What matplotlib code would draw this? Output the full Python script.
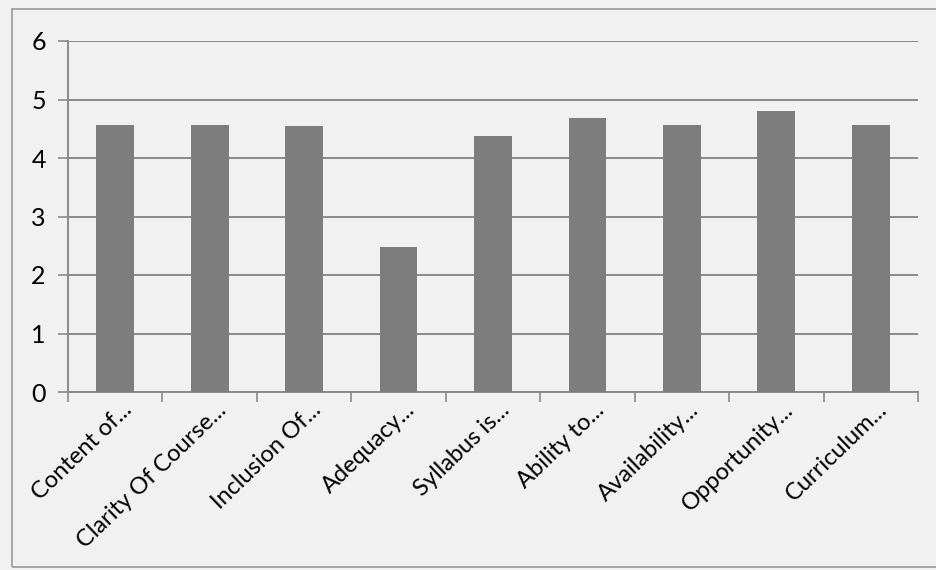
import matplotlib
matplotlib.use("Agg")
import matplotlib.pyplot as plt
import matplotlib.transforms as mtransforms
from matplotlib.patches import Rectangle
import numpy as np

categories = ["Content of...", "Clarity Of Course...", "Inclusion Of...", "Adequacy...",
              "Syllabus is...", "Ability to...", "Availability...", "Opportunity...",
              "Curriculum..."]
values = [4.57, 4.56, 4.55, 2.48, 4.38, 4.68, 4.57, 4.80, 4.57]
yticks = [0, 1, 2, 3, 4, 5, 6]

plt.rcParams['font.family'] = ['Lato', 'DejaVu Sans']

W, H = 936, 570
fig = plt.figure(figsize=(W / 100, H / 100), dpi=100)
bg = '#f1f1f1'
fig.patch.set_facecolor(bg)

ax = fig.add_axes([68 / W, 1 - 392 / H, (918 - 68) / W, (392 - 41) / H])
ax.set_facecolor(bg)

x = np.arange(len(categories))
ax.bar(x, values, width=0.4, color='#7d7d7d', zorder=3)

ax.set_xlim(-0.5, len(categories) - 0.5)
ax.set_ylim(0, 6)
ax.set_yticks(yticks)
ax.set_yticklabels([str(v) for v in yticks], fontsize=18)
ax.yaxis.grid(True, color='#8a8a8a', linewidth=1.4, zorder=1)
ax.tick_params(axis='y', length=7, width=1.2, color='#8a8a8a', pad=9)

ax.set_xticks(x)
ax.set_xticklabels(categories, rotation=44, ha='right', va='top',
                   rotation_mode='anchor', fontsize=17)
ax.tick_params(axis='x', length=0, pad=5)
offset = mtransforms.ScaledTranslation(6 / 100, 0, fig.dpi_scale_trans)
for lab in ax.get_xticklabels():
    lab.set_transform(lab.get_transform() + offset)

ax.set_xticks(np.arange(-0.5, len(categories), 1.0), minor=True)
ax.tick_params(axis='x', which='minor', length=7, width=1.2, color='#8a8a8a')

for s in ['top', 'right']:
    ax.spines[s].set_visible(False)
for s in ['left', 'bottom']:
    ax.spines[s].set_color('#8a8a8a')
    ax.spines[s].set_linewidth(1.4)

# chart border
fig.patches.append(Rectangle((12 / W, 3 / H), 1.0, 1 - 12 / H, transform=fig.transFigure,
                             fill=False, edgecolor='#9a9a9a', linewidth=1.2))

fig.savefig('out.png', dpi=100, facecolor=bg)
